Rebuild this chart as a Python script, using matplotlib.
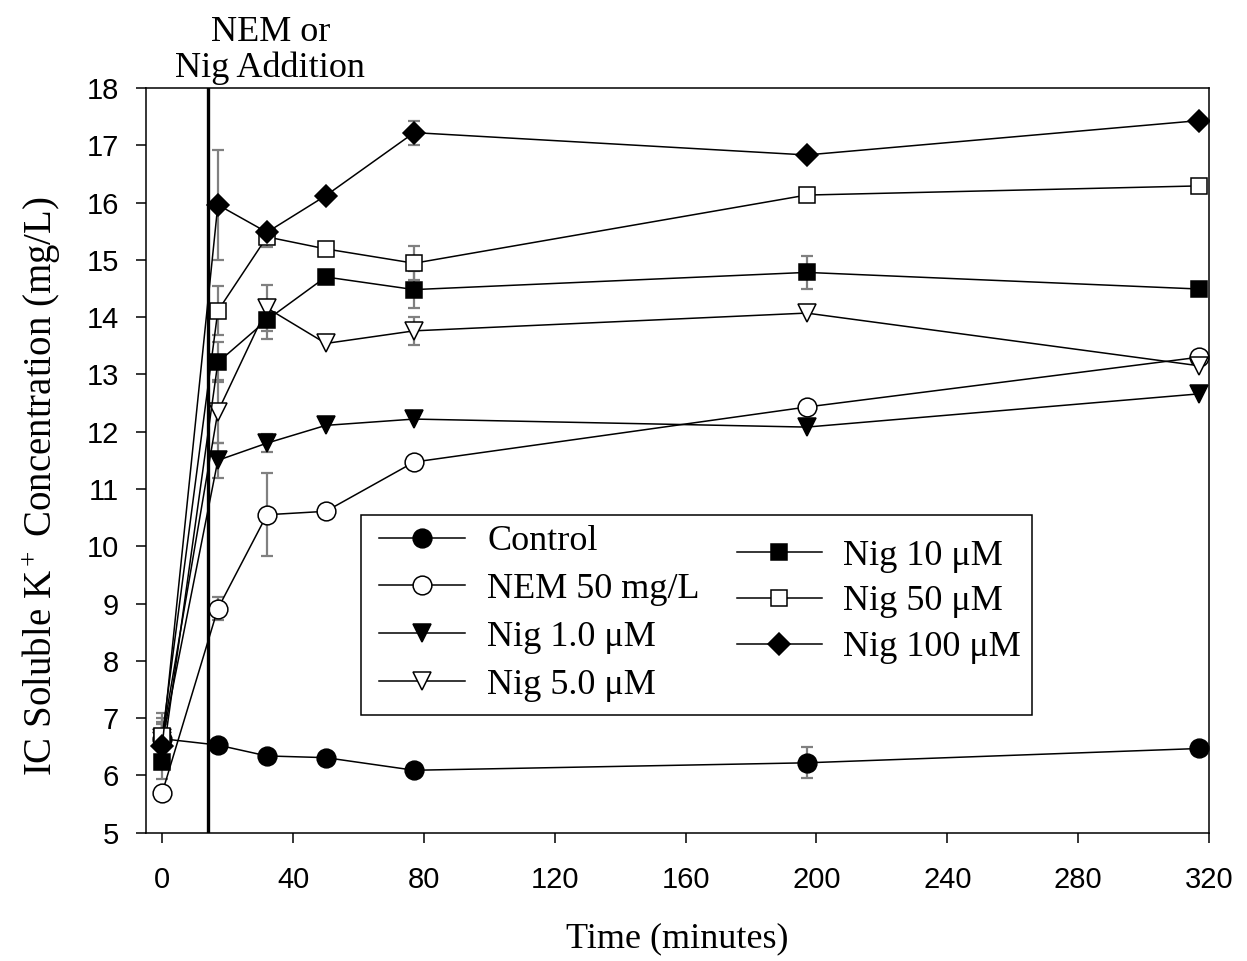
import matplotlib
matplotlib.use("Agg")
import matplotlib.pyplot as plt
from matplotlib.patches import Rectangle

plt.rcParams['font.family'] = ['Liberation Serif', 'DejaVu Serif']
plt.rcParams['mathtext.fontset'] = 'custom'
plt.rcParams['mathtext.rm'] = 'Liberation Serif'
plt.rcParams['mathtext.it'] = 'Liberation Serif:italic'

# ---- data ----
time_min = [0, 17, 32, 50, 77, 197, 317]
control = [6.64, 6.53, 6.34, 6.31, 6.09, 6.22, 6.47]
control_err = [0.30, 0, 0, 0, 0, 0.27, 0]
nem50 = [5.70, 8.91, 10.55, 10.61, 11.47, 12.43, 13.30]
nem50_err = [0, 0.20, 0.72, 0, 0, 0, 0]
nig1 = [6.60, 11.50, 11.80, 12.11, 12.22, 12.08, 12.66]
nig1_err = [0.30, 0.30, 0.16, 0, 0, 0, 0]
nig5 = [6.65, 12.35, 14.16, 13.54, 13.76, 14.07, 13.15]
nig5_err = [0.35, 0.55, 0.40, 0, 0.24, 0, 0]
nig10 = [6.23, 13.21, 13.95, 14.70, 14.48, 14.78, 14.49]
nig10_err = [0.30, 0.35, 0.34, 0, 0.33, 0.29, 0]
nig50 = [6.69, 14.11, 15.40, 15.19, 14.94, 16.13, 16.29]
nig50_err = [0.40, 0.43, 0.17, 0, 0.30, 0, 0]
nig100 = [6.52, 15.96, 15.48, 16.12, 17.22, 16.83, 17.43]
nig100_err = [0.40, 0.96, 0, 0, 0.21, 0, 0]

addition_time = 14
x_ticks = [0, 40, 80, 120, 160, 200, 240, 280, 320]
y_ticks = [5, 6, 7, 8, 9, 10, 11, 12, 13, 14, 15, 16, 17, 18]

series = [
    ("Control", control, control_err, 'o', 'black', 13.5),
    ("NEM 50 mg/L", nem50, nem50_err, 'o', 'white', 13.5),
    ("Nig 1.0 \u03bcM", nig1, nig1_err, 'v', 'black', 13.5),
    ("Nig 5.0 \u03bcM", nig5, nig5_err, 'v', 'white', 13.5),
    ("Nig 10 \u03bcM", nig10, nig10_err, 's', 'black', 11.5),
    ("Nig 50 \u03bcM", nig50, nig50_err, 's', 'white', 11.5),
    ("Nig 100 \u03bcM", nig100, nig100_err, 'D', 'black', 11.0),
]

fig = plt.figure(figsize=(12.47, 9.61), dpi=100)
ax = fig.add_axes([0.117, 0.1335, 0.8525, 0.775])

handles = []
for label, vals, errs, mk, fc, ms in series:
    xs = [t for t, e in zip(time_min, errs) if e > 0]
    ys = [v for v, e in zip(vals, errs) if e > 0]
    es = [e for e in errs if e > 0]
    ax.errorbar(xs, ys, yerr=es, fmt='none', ecolor='#808080', elinewidth=1.6,
                capsize=4, capthick=1.6, zorder=2)
for label, vals, errs, mk, fc, ms in series:
    h, = ax.plot(time_min, vals, marker=mk, markersize=ms, markerfacecolor=fc,
                 markeredgecolor='black', markeredgewidth=1.1, color='black',
                 linewidth=1.1, label=label, zorder=3)
    handles.append(h)

ax.axvline(addition_time, color='black', linewidth=2.4, zorder=4)

ax.set_xlim(-5, 320)
ax.set_ylim(5, 18)
ax.set_xticks(x_ticks)
ax.set_yticks(y_ticks)
ax.tick_params(axis='both', direction='out', length=7.2, width=1.1,
               labelsize=21)
ax.tick_params(axis='y', pad=12)
ax.tick_params(axis='x', pad=17)
for lab in ax.get_xticklabels() + ax.get_yticklabels():
    lab.set_family(['Liberation Sans', 'DejaVu Sans'])
for sp in ax.spines.values():
    sp.set_linewidth(1.1)

ax.set_xlabel("Time (minutes)", fontsize=26)
ax.xaxis.set_label_coords(0.5, -0.12)
ax.set_ylabel("IC Soluble K$^+$ Concentration (mg/L)", fontsize=28)
ax.yaxis.set_label_coords(-0.078, 0.465)

ax.text(33, 1.004, "NEM or\nNig Addition", transform=ax.get_xaxis_transform(),
        ha='center', va='bottom', fontsize=26, linespacing=1.1)

# legend frame
ax.add_patch(Rectangle((0.202, 0.1585), 0.632, 0.2675, transform=ax.transAxes,
                       facecolor='white', edgecolor='black', linewidth=1.1,
                       zorder=5))
leg1 = ax.legend(handles=handles[:4], loc='upper left',
                 bbox_to_anchor=(0.219, 0.413), frameon=False, fontsize=26,
                 handlelength=2.4, handletextpad=0.6, labelspacing=0.4,
                 borderpad=0, borderaxespad=0)
leg1.set_zorder(6)
ax.add_artist(leg1)
leg2 = ax.legend(handles=handles[4:], loc='upper left',
                 bbox_to_anchor=(0.556, 0.394), frameon=False, fontsize=26,
                 handlelength=2.35, handletextpad=0.6, labelspacing=0.35,
                 borderpad=0, borderaxespad=0)
leg2.set_zorder(6)

fig.savefig("out.png", dpi=100)
